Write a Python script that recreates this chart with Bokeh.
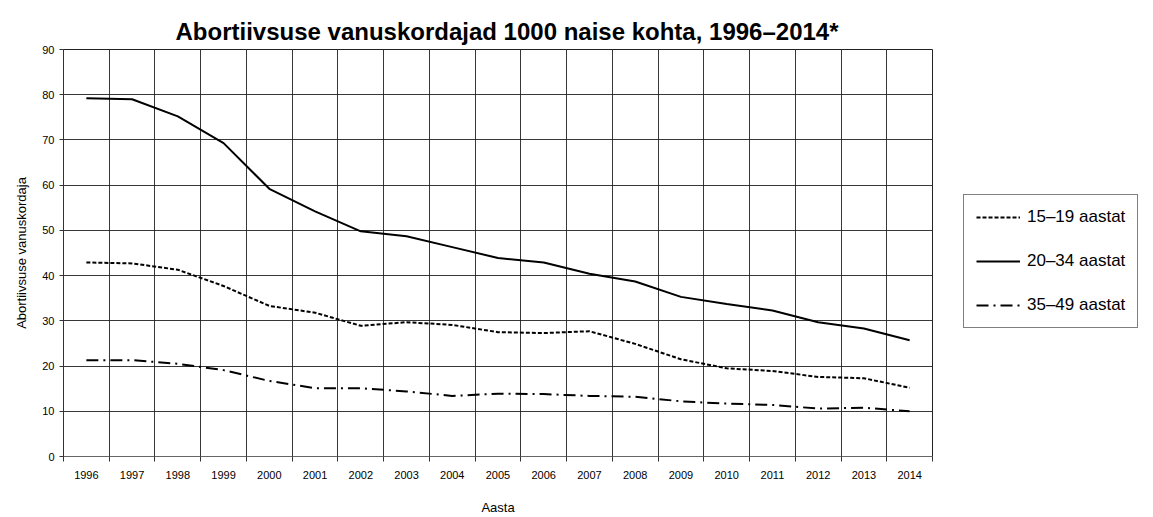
from bokeh.plotting import figure
from bokeh.models import FixedTicker, Legend, LegendItem, Range1d
from bokeh.embed import file_html
from bokeh.resources import INLINE

years = ["1996", "1997", "1998", "1999", "2000", "2001", "2002", "2003", "2004", "2005",
         "2006", "2007", "2008", "2009", "2010", "2011", "2012", "2013", "2014"]
age_15_19 = [42.9, 42.7, 41.3, 37.7, 33.3, 31.8, 28.9, 29.7, 29.1, 27.5,
             27.3, 27.7, 24.9, 21.5, 19.5, 18.9, 17.6, 17.3, 15.2]
age_20_34 = [79.2, 79.0, 75.2, 69.3, 59.2, 54.2, 49.8, 48.7, 46.3, 43.9,
             42.9, 40.4, 38.7, 35.3, 33.7, 32.3, 29.7, 28.3, 25.7]
age_35_49 = [21.3, 21.3, 20.5, 19.1, 16.7, 15.1, 15.1, 14.4, 13.4, 13.9,
             13.8, 13.4, 13.2, 12.2, 11.7, 11.4, 10.6, 10.8, 10.0]
series_labels = ["15–19 aastat", "20–34 aastat", "35–49 aastat"]
y_ticks = [0, 10, 20, 30, 40, 50, 60, 70, 80, 90]

FONT = "Liberation Sans"
n = len(years)
xc = [i + 0.5 for i in range(n)]
bounds = list(range(n + 1))

p = figure(frame_width=869, frame_height=407, output_backend="svg", toolbar_location=None,
           x_range=Range1d(0, n), y_range=Range1d(0, 90),
           title="Abortiivsuse vanuskordajad 1000 naise kohta, 1996–2014*",
           min_border_left=63, min_border_top=49, min_border_bottom=45, min_border_right=205)

p.title.text_font = FONT
p.title.text_font_size = "24px"
p.title.text_font_style = "bold"
p.title.align = "left"
p.title.offset = 112
p.title.text_color = "black"

p.outline_line_color = "#222222"

# x axis
p.xaxis.ticker = FixedTicker(ticks=xc, minor_ticks=bounds)
p.xaxis.major_label_overrides = {x: y for x, y in zip(xc, years)}
p.xaxis.major_tick_line_color = None
p.xaxis.minor_tick_in = 0
p.xaxis.minor_tick_out = 5
p.xaxis.minor_tick_line_color = "#333333"
p.xaxis.axis_line_color = "#666666"
p.xaxis.major_label_text_font = FONT
p.xaxis.major_label_text_font_size = "11px"
p.xaxis.major_label_text_color = "black"
p.xaxis.major_label_standoff = 8
p.xaxis.axis_label = "Aasta"
p.xaxis.axis_label_text_font = FONT
p.xaxis.axis_label_text_font_size = "13px"
p.xaxis.axis_label_text_font_style = "normal"
p.xaxis.axis_label_text_color = "black"
p.xaxis.axis_label_standoff = 18

# y axis
p.yaxis.ticker = FixedTicker(ticks=y_ticks)
p.yaxis.minor_tick_line_color = None
p.yaxis.major_tick_in = 0
p.yaxis.major_tick_out = 4
p.yaxis.major_tick_line_color = "#333333"
p.yaxis.axis_line_color = "#333333"
p.yaxis.major_label_text_font = FONT
p.yaxis.major_label_text_font_size = "11px"
p.yaxis.major_label_text_color = "black"
p.yaxis.major_label_standoff = 5
p.yaxis.axis_label = "Abortiivsuse vanuskordaja"
p.yaxis.axis_label_text_font = FONT
p.yaxis.axis_label_text_font_size = "13px"
p.yaxis.axis_label_text_font_style = "normal"
p.yaxis.axis_label_text_color = "black"
p.yaxis.axis_label_standoff = 10

# grid
p.xgrid.ticker = FixedTicker(ticks=bounds)
p.xgrid.grid_line_color = "#222222"
p.xgrid.grid_line_alpha = 0.9
p.ygrid.grid_line_color = "#222222"
p.ygrid.grid_line_alpha = 0.9

r1 = p.line(xc, age_15_19, line_color="black", line_width=2, line_dash="4 2")
r2 = p.line(xc, age_20_34, line_color="black", line_width=2)
r3 = p.line(xc, age_35_49, line_color="black", line_width=2, line_dash="12 5 2 5")

legend = Legend(items=[LegendItem(label=series_labels[0], renderers=[r1]),
                       LegendItem(label=series_labels[1], renderers=[r2]),
                       LegendItem(label=series_labels[2], renderers=[r3])],
                location=(31, 128), border_line_color="black", border_line_width=1,
                label_text_font=FONT, label_text_font_size="17px", label_text_color="black",
                glyph_width=44, glyph_height=20, label_standoff=7, spacing=24,
                padding=12, margin=0)
p.add_layout(legend, "right")

open("out.html", "w").write(file_html(p, INLINE))
